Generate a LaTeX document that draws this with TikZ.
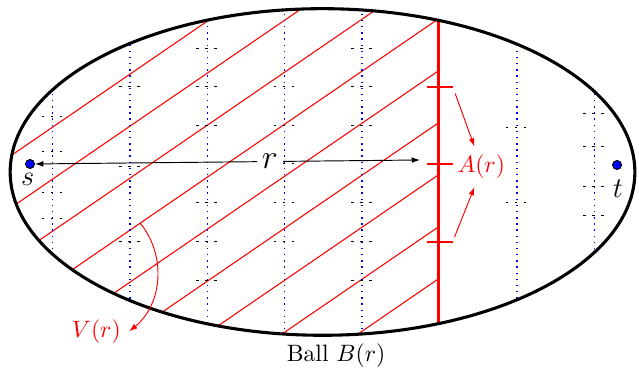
\documentclass[tikz,border=0pt]{standalone}
\usepackage{amsmath}
\usetikzlibrary{arrows.meta}

\begin{document}
\begin{tikzpicture}[scale=0.961,
  gridline/.style={blue, dotted, line width=0.6pt},
  cross/.style={black, dash pattern=on 1.1pt off 2.7pt},
  hatch/.style={red, line width=0.45pt},
  vertex/.style={circle, fill=blue, draw=black, inner sep=0pt, minimum size=3.8pt},
  tip/.style={-{Latex[length=3.5pt,width=2.4pt]}}]
  \useasboundingbox (-4.977,-3.025) rectangle (4.884,2.654);

  % Hatched part of the ball, left of A(r)
  \begin{scope}
    \clip (0,0) ellipse (4.82 and 2.52);
    \clip (-5,-3) rectangle (1.79,3);
    \foreach \k in {0,...,8}
      \draw[hatch] (-5,{0.12-0.8025*\k}) -- ++(7,{0.685*7});
  \end{scope}

  % Columns
  \begin{scope}
    \clip (0,0) ellipse (4.82 and 2.52);
    \foreach \x in {-4.165,-2.971,-1.777,-0.583,0.611,2.999,4.193}
      \draw[gridline] (\x,-3) -- (\x,3);
  \end{scope}

  % Small dashed marks
  \foreach \x/\y in {-4.165/0.849, -4.165/0.324, -4.165/-0.309, -4.165/-0.725,
                     -2.971/1.314, -2.971/0.085, -2.971/-1.074,
                     -1.777/1.911, -1.777/1.314, -1.777/0.717, -1.777/-0.477, -1.777/-1.074, -1.777/-1.671,
                     -0.583/1.314, -0.583/0.717, -0.583/0.13, -0.583/-0.477, -0.583/-1.074,
                     0.611/1.911, 0.611/1.314, 0.611/0.717, 0.611/-0.477, 0.611/-1.074, 0.611/-1.671,
                     2.999/0.690, 2.999/-0.477,
                     4.193/0.910, 4.193/0.400, 4.193/-0.230, 4.193/-0.664}
    \draw[cross] (\x-0.17,\y) -- (\x+0.17,\y);

  % Boundary A(r)
  \coordinate (atop) at (1.79,2.34);
  \coordinate (abot) at (1.79,-2.34);
  \draw[red, line width=1.3pt] (atop) -- (abot);
  \foreach \y/\n in {1.314/up, 0.12/mid, -1.074/low}
    \draw[red, line width=0.9pt] (1.61,\y) -- (2.01,\y) coordinate (tick\n);
  \node[red] (lblA) at (2.45,0.08) {$A(r)$};
  \draw[red, tip, shorten <=3pt] (tickup) -- ([xshift=-3pt]lblA.north);
  \draw[red, tip, shorten <=2pt] (ticklow) -- ([xshift=-3pt]lblA.south);

  % Ball
  \draw[line width=1.3pt] (0,0) ellipse (4.82 and 2.52);
  \node[below] (ball) at (0.21,-2.52) {Ball $B(r)$};

  % V(r)
  \coordinate (vstart) at (-2.816,-0.787);
  \node[red] (lblV) at (-3.49,-2.46) {$V(r)$};
  \draw[red, tip] (vstart) to[bend left=45] (lblV.east);

  % s, t and distance r
  \node[vertex] (s) at (-4.514,0.123) {};
  \node[vertex] (t) at (4.545,0.108) {};
  \node[font=\large] (slbl) at (-4.55,-0.12) {$s$};
  \node[font=\large] (tlbl) at (4.56,-0.26) {$t$};
  \coordinate (rtip) at (1.505,0.185);
  \draw[{Latex[length=3.5pt,width=2.4pt]}-{Latex[length=3.5pt,width=2.4pt]}] (s) -- node[pos=0.61, fill=white, inner sep=2pt, font=\Large] (rlbl) {$r$} (rtip);
\end{tikzpicture}
\end{document}
